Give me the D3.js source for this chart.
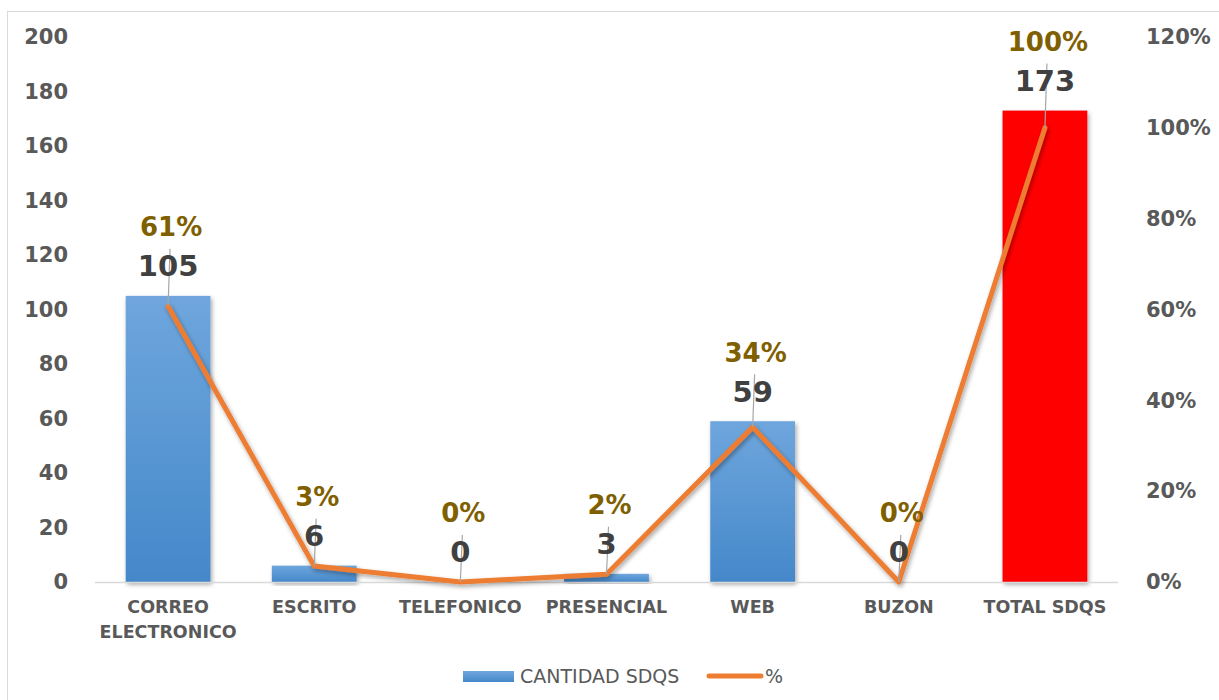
<!DOCTYPE html>
<html>
  <head>
    <meta charset="utf-8">
    <title>CANTIDAD SDQS</title>
    <script src="https://cdn.jsdelivr.net/npm/d3@7"></script>
    <style type="text/css">
        body { margin: 0; background: #fff; }
        svg text { font-family: "DejaVu Sans", sans-serif; }
        .axis text { fill: #595959; font-weight: bold; font-size: 21px; font-family: "DejaVu Sans", sans-serif; }
        .xaxis text { font-size: 17.5px; }
        .axis path, .axis line { display: none; }
    </style>
  </head>
  <body>
    <div id="chart-container"></div>
    <script type="text/javascript">
      var categories = ["CORREO ELECTRONICO", "ESCRITO", "TELEFONICO", "PRESENCIAL", "WEB", "BUZON", "TOTAL SDQS"];
      var cantidad = [105, 6, 0, 3, 59, 0, 173];
      var pct = [0.607, 0.035, 0, 0.017, 0.341, 0, 1.0];
      var pctLabels = ["61%", "3%", "0%", "2%", "34%", "0%", "100%"];
      var leftTicks = [0, 20, 40, 60, 80, 100, 120, 140, 160, 180, 200];
      var rightTicks = [0, 0.2, 0.4, 0.6, 0.8, 1.0, 1.2];

      (function() {
      var w = 1219, h = 700;
      var mLeft = 95, mRight = 1118, mTop = 37, mBottom = 582;

      var svg = d3.select("#chart-container").append("svg")
          .attr("width", w)
          .attr("height", h);

      var defs = svg.append("defs");
      var grad = defs.append("linearGradient").attr("id", "barGrad")
          .attr("x1", 0).attr("y1", 0).attr("x2", 0).attr("y2", 1);
      grad.append("stop").attr("offset", "0%").attr("stop-color", "#6fa6dd");
      grad.append("stop").attr("offset", "100%").attr("stop-color", "#4488ca");

      var shadow = defs.append("filter").attr("id", "shadow")
          .attr("x", "-20%").attr("y", "-20%").attr("width", "140%").attr("height", "140%");
      shadow.append("feDropShadow").attr("dx", 1.5).attr("dy", 2.5)
          .attr("stdDeviation", 2).attr("flood-color", "#000").attr("flood-opacity", 0.35);

      // outer frame
      svg.append("rect")
          .attr("x", 7.5).attr("y", 11.5)
          .attr("width", 1240).attr("height", 720)
          .attr("fill", "none").attr("stroke", "#d9d9d9");

      var x = d3.scaleBand().domain(categories).range([mLeft, mRight])
          .paddingInner(0.42).paddingOuter(0.21);
      var y = d3.scaleLinear().domain([0, 200]).range([mBottom, mTop]);
      var y2 = d3.scaleLinear().domain([0, 1.2]).range([mBottom, mTop]);

      var cx = function(d, i) { return x(categories[i]) + x.bandwidth() / 2; };

      // axes
      svg.append("g").attr("class", "axis")
          .attr("transform", "translate(" + mLeft + ",0)")
          .call(d3.axisLeft(y).tickValues(leftTicks).tickSize(0).tickPadding(27));

      svg.append("g").attr("class", "axis")
          .attr("transform", "translate(" + mRight + ",0)")
          .call(d3.axisRight(y2).tickValues(rightTicks).tickSize(0).tickPadding(28)
              .tickFormat(d3.format(".0%")));

      var xAxis = svg.append("g").attr("class", "axis xaxis")
          .attr("transform", "translate(0," + mBottom + ")")
          .call(d3.axisBottom(x).tickSize(0).tickPadding(19));

      // wrap two-word long labels
      xAxis.selectAll(".tick text").each(function(d) {
          if (d.length > 14 && d.indexOf(" ") > 0) {
              var t = d3.select(this), parts = d.split(" ");
              t.text(null);
              t.append("tspan").attr("x", 0).attr("dy", "0.71em").text(parts[0]);
              t.append("tspan").attr("x", 0).attr("dy", "1.4em").text(parts[1]);
              t.attr("dy", null);
          }
      });

      // bars
      svg.append("g").selectAll("rect")
          .data(cantidad)
          .enter().append("rect")
          .attr("x", function(d, i) { return x(categories[i]); })
          .attr("y", function(d) { return y(d); })
          .attr("width", x.bandwidth())
          .attr("height", function(d) { return mBottom - y(d); })
          .attr("fill", function(d, i) { return i === categories.length - 1 ? "#ff0000" : "url(#barGrad)"; })
          .attr("filter", "url(#shadow)");

      // zero line
      svg.append("line")
          .attr("x1", mLeft).attr("x2", mRight)
          .attr("y1", mBottom + 0.5).attr("y2", mBottom + 0.5)
          .attr("stroke", "#d9d9d9").attr("stroke-width", 1.5);

      // % line
      var line = d3.line()
          .x(function(d, i) { return cx(d, i); })
          .y(function(d) { return y2(d); });

      svg.append("path")
          .datum(pct)
          .attr("d", line)
          .attr("fill", "none")
          .attr("stroke", "#ed7d31")
          .attr("stroke-width", 5)
          .attr("stroke-linejoin", "round")
          .attr("stroke-linecap", "round")
          .attr("filter", "url(#shadow)");

      // leader lines
      svg.append("g").selectAll("line")
          .data(pct)
          .enter().append("line")
          .attr("x1", function(d, i) { return cx(d, i) + 2; })
          .attr("y1", function(d, i) { return y(cantidad[i]) - 47; })
          .attr("x2", function(d, i) { return cx(d, i); })
          .attr("y2", function(d) { return y2(d); })
          .attr("stroke", "#a6a6a6").attr("stroke-width", 1.2);

      // value labels
      svg.append("g").selectAll("text")
          .data(cantidad)
          .enter().append("text")
          .attr("x", function(d, i) { return cx(d, i); })
          .attr("y", function(d) { return y(d) - 30; })
          .attr("dy", "0.36em")
          .attr("text-anchor", "middle")
          .attr("font-size", 29).attr("font-weight", "bold")
          .attr("fill", "#404040")
          .text(function(d) { return d; });

      // percent labels
      svg.append("g").selectAll("text")
          .data(pctLabels)
          .enter().append("text")
          .attr("x", function(d, i) { return cx(d, i) + 3; })
          .attr("y", function(d, i) { return y(cantidad[i]) - 69; })
          .attr("dy", "0.36em")
          .attr("text-anchor", "middle")
          .attr("font-size", 26).attr("font-weight", "bold")
          .attr("fill", "#7f6000")
          .text(function(d) { return d; });

      // legend
      var legend = svg.append("g").attr("transform", "translate(0,676)");
      legend.append("rect")
          .attr("x", 463).attr("y", -5).attr("width", 51).attr("height", 11)
          .attr("fill", "url(#barGrad)");
      legend.append("text")
          .attr("x", 520).attr("y", 0).attr("dy", "0.36em")
          .attr("font-size", 19).attr("fill", "#595959")
          .text("CANTIDAD SDQS");
      legend.append("line")
          .attr("x1", 709).attr("x2", 761).attr("y1", 0).attr("y2", 0)
          .attr("stroke", "#ed7d31").attr("stroke-width", 5)
          .attr("stroke-linecap", "round");
      legend.append("text")
          .attr("x", 765).attr("y", 0).attr("dy", "0.36em")
          .attr("font-size", 19).attr("fill", "#595959")
          .text("%");
      })();
    </script>
  </body>
</html>
